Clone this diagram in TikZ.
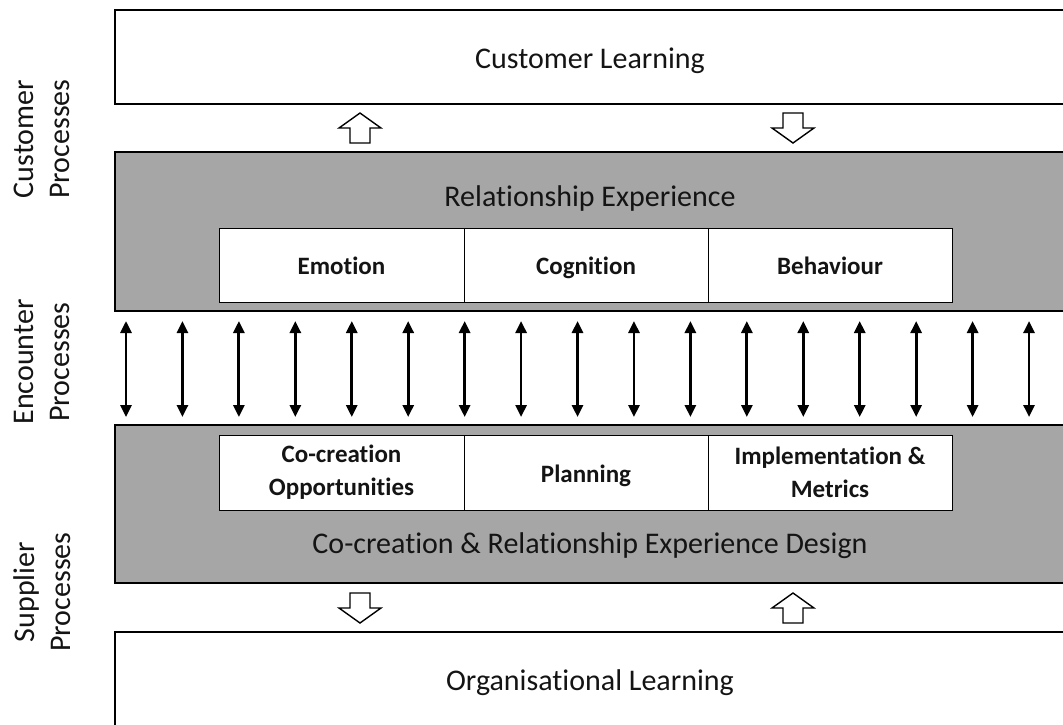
\documentclass[tikz,border=0pt]{standalone}
\usepackage{fontspec}
\setmainfont[Ligatures=NoCommon,Contextuals=NoAlternate]{Carlito}
\usetikzlibrary{arrows.meta}
\definecolor{boxgray}{RGB}{166,166,166}
\definecolor{txt}{RGB}{20,20,20}
\newcommand{\lowered}[1]{\raisebox{-3pt}[\height][\depth]{\strut #1}}
\begin{document}
\begin{tikzpicture}[x=1pt,y=-1pt,
  outer/.style={draw=black,line width=2pt,anchor=north west,inner sep=0pt,outer sep=0pt},
  inner/.style={draw=black,line width=0.9pt,fill=white,anchor=north west,inner sep=0pt,outer sep=0pt,
                minimum height=74pt,text=txt,font=\fontsize{25}{33}\selectfont\bfseries,align=center},
  big/.style={text=txt,font=\fontsize{30}{36}\selectfont},
  side/.style={text=txt,font=\fontsize{30}{36.6}\selectfont,align=center,rotate=90},
  dbl/.style={line width=2.8pt,{Triangle[width=11pt,length=12pt]}-{Triangle[width=11pt,length=12pt]}},
  blk/.style={draw=black,line width=1.4pt,fill=white,line join=miter},
  blockup/.pic={\draw[blk] (-21,0) -- (0,-15) -- (21,0) -- (10,0) -- (10,15) -- (-10,15) -- (-10,0) -- cycle;},
  blockdown/.pic={\draw[blk] (-21,0) -- (0,15) -- (21,0) -- (10,0) -- (10,-15) -- (-10,-15) -- (-10,0) -- cycle;}
]
\useasboundingbox (0,0) rectangle (1063,724);
\fill[white] (0,0) rectangle (1063,724);

% outer boxes
\node[outer,fill=white,minimum width=960pt,minimum height=94pt] (cl) at (115,10) {};
\node[outer,fill=boxgray,minimum width=960pt,minimum height=159pt] (re) at (115,152) {};
\node[outer,fill=boxgray,minimum width=960pt,minimum height=158pt] (cd) at (115,425) {};
\node[outer,fill=white,minimum width=960pt,minimum height=100pt] (ol) at (115,632) {};

% main labels
\node[big] (clt) at (590,61) {\strut Customer Learning};
\node[big] (ret) at (590,199) {\strut Relationship Experience};
\node[big] (cdt) at (590,546) {\strut Co-creation \& Relationship Experience Design};
\node[big] (olt) at (590,683) {\strut Organisational Learning};

% inner boxes, upper
\node[inner,minimum width=245pt] (emo) at (219,228) {\lowered{Emotion}};
\node[inner,minimum width=244pt] (cog) at (464,228) {\lowered{Cognition}};
\node[inner,minimum width=244pt] (beh) at (708,228) {\lowered{Behaviour}};

% inner boxes, lower
\node[inner,minimum width=245pt,minimum height=75pt] (cco) at (219,435) {Co-creation\\Opportunities};
\node[inner,minimum width=244pt,minimum height=75pt] (pla) at (464,435) {\lowered{Planning}};
\node[inner,minimum width=244pt,minimum height=75pt] (imp) at (708,435) {Implementation \&\\Metrics};

% side labels
\node[side] (sc) at (42,139) {Customer\\Processes};
\node[side] (se) at (42,362) {Encounter\\Processes};
\node[side] (ss) at (42,592) {Supplier\\Processes};

% block arrows
\pic at (360,128) {blockup};
\pic at (793,128) {blockdown};
\pic at (360,608) {blockdown};
\pic at (793,608) {blockup};

% encounter arrows
\foreach \i in {0,...,16}{
  \coordinate (t\i) at (126+56.44*\i,321);
  \coordinate (b\i) at (126+56.44*\i,417);
  \draw[dbl] (t\i) -- (b\i);
}
\end{tikzpicture}
\end{document}
